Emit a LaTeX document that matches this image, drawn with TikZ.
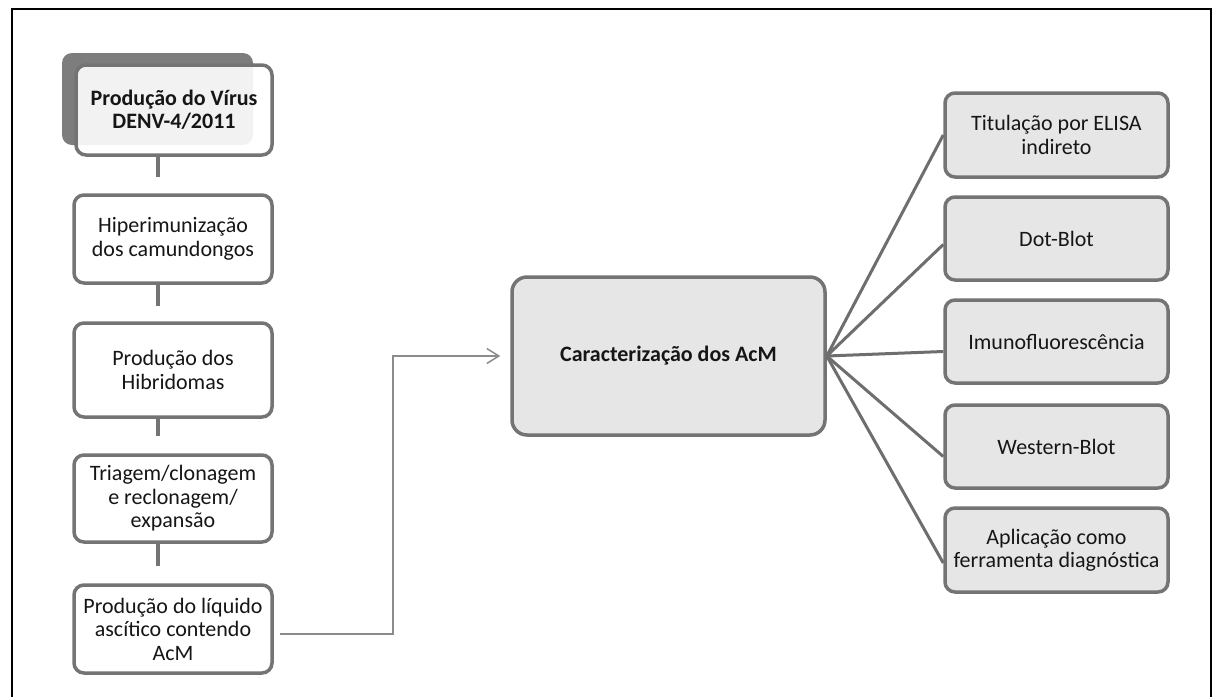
\documentclass[tikz,border=0pt]{standalone}
\usepackage{fontspec}
\setmainfont{Carlito}
\usetikzlibrary{arrows.meta,calc}
\definecolor{bordergray}{HTML}{747474}
\definecolor{shadowgray}{HTML}{7D7D7D}
\definecolor{lightfill}{HTML}{E6E6E6}
\definecolor{txtcol}{HTML}{161616}
\definecolor{fangray}{HTML}{6E6E6E}
\definecolor{arrowgray}{HTML}{8C8C8C}
\tikzset{
  leftbox/.style={draw=bordergray, line width=3.5pt, rounded corners=10pt, fill=white,
    fill opacity=0.9, text opacity=1, minimum width=198pt, align=center, inner sep=1pt},
  shadowbox/.style={fill=shadowgray, rounded corners=10pt, inner sep=0pt},
  rbox/.style={draw=bordergray, line width=3.5pt, rounded corners=10pt, fill=lightfill,
    minimum width=223pt, minimum height=84pt, align=center, inner sep=1pt},
  cbox/.style={draw=bordergray, line width=3.5pt, rounded corners=15pt, fill=lightfill,
    minimum width=313pt, minimum height=158pt, align=center, font=\fontsize{22}{24}\selectfont\bfseries},
  vconn/.style={draw=bordergray, line width=4pt},
  fanline/.style={draw=fangray, line width=3pt},
  arrowline/.style={draw=arrowgray, line width=1.5pt, -{Straight Barb[length=12pt,width=15pt]}},
}
\begin{document}
\begin{tikzpicture}[x=1pt,y=-1pt, font=\fontsize{22}{23.5}\selectfont, text=txtcol]
\useasboundingbox (0,0) rectangle (1213,697);
\fill[white] (0,0) rectangle (1213,697);
\draw[black, line width=1.5pt] (12,697) -- (12,9) -- (1211,9) -- (1211,697);

\coordinate (cx) at (158,0);

% shadow box of first step
\node[shadowbox, minimum width=191pt, minimum height=92pt] (sh) at (157.5,99) {};

% left column boxes
\node[leftbox, minimum width=196pt, minimum height=90pt, font=\fontsize{22}{23.5}\selectfont\bfseries] (b1) at (174,110) {Produção do Vírus\\DENV-4/2011};
\node[leftbox, minimum height=88pt] (b2) at (173,239) {Hiperimunização\\dos camundongos};
\node[leftbox, minimum height=94pt] (b3) at (173,370) {Produção dos\\Hibridomas};
\node[leftbox, minimum height=87pt] (b4) at (173,498.5) {Triagem/clonagem\\e reclonagem/\\expansão};
\node[leftbox, minimum height=88pt] (b5) at (173,629) {Produção do líquido\\ascítico contendo\\AcM};

% vertical connectors
\draw[vconn] (b1.south -| cx) -- ($(b2.north -| cx)+(0,-16)$);
\draw[vconn] (b2.south -| cx) -- ($(b3.north -| cx)+(0,-15)$);
\draw[vconn] (b3.south -| cx) -- ($(b4.north -| cx)+(0,-17)$);
\draw[vconn] (b4.south -| cx) -- ($(b5.north -| cx)+(0,-17)$);

% center box
\node[cbox] (cen) at (668.5,356) {Caracterização dos AcM};

% right boxes
\node[rbox] (ra) at (1056.5,135) {Titulação por ELISA\\indireto};
\node[rbox, minimum height=83pt] (rb) at (1056.5,238.5) {Dot-Blot};
\node[rbox, minimum height=83pt] (rc) at (1056.5,341.5) {Imunofluorescência};
\node[rbox, minimum height=83pt] (rd) at (1056.5,446.5) {Western-Blot};
\node[rbox] (re) at (1056.5,550) {Aplicação como\\ferramenta diagnóstica};

% fan connectors
\draw[fanline] (cen.east) -- (ra.west);
\draw[fanline] (cen.east) -- ([yshift=-6pt]rb.west);
\draw[fanline] (cen.east) -- ([yshift=-10pt]rc.west);
\draw[fanline] (cen.east) -- ([yshift=-10pt]rd.west);
\draw[fanline] (cen.east) -- ([yshift=-13pt]re.west);

% arrow from last step to center box
\draw[arrowline] ([xshift=6pt,yshift=-5pt]b5.east) -- ++(113,0) |- ([xshift=-10pt]cen.west);
\end{tikzpicture}
\end{document}
